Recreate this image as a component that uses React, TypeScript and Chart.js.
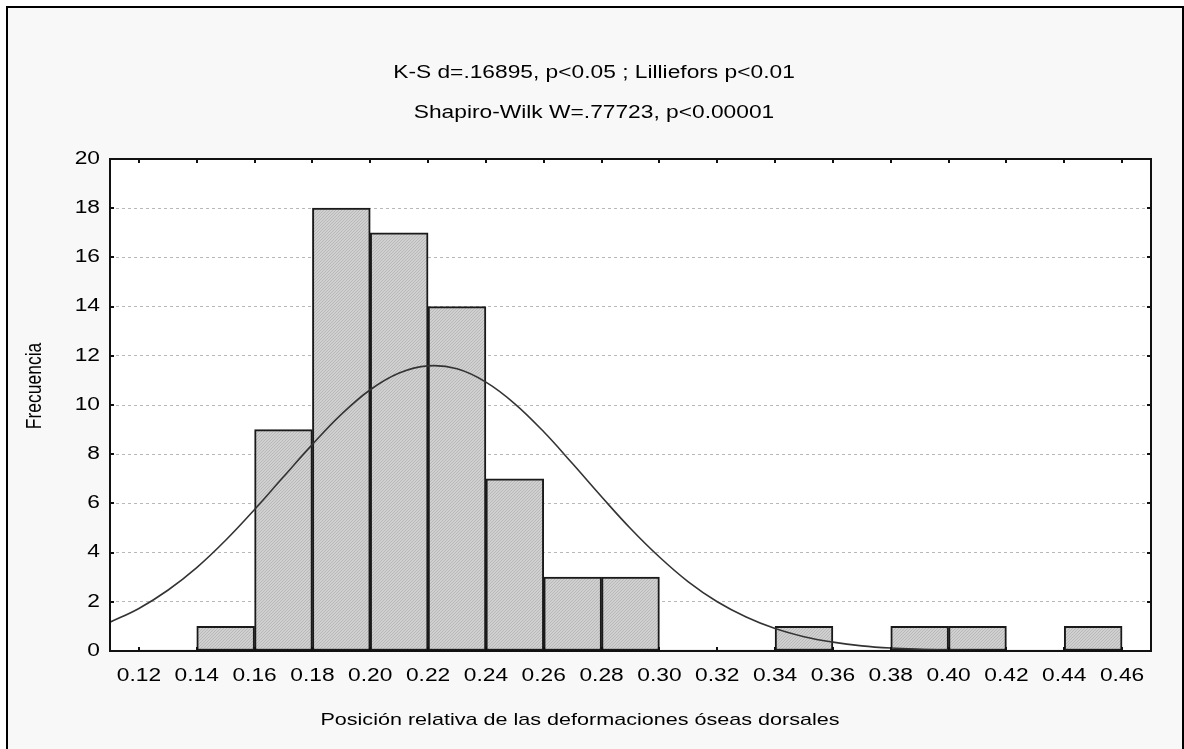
import React, { useEffect, useRef } from "react";
import { Chart, registerables } from "chart.js";

Chart.register(...registerables);

// ---- Data ----
const tickValues = [0.12, 0.14, 0.16, 0.18, 0.2, 0.22, 0.24, 0.26, 0.28, 0.3, 0.32, 0.34, 0.36, 0.38, 0.4, 0.42, 0.44, 0.46];
const tickLabels = ["0.12", "0.14", "0.16", "0.18", "0.20", "0.22", "0.24", "0.26", "0.28", "0.30", "0.32", "0.34", "0.36", "0.38", "0.40", "0.42", "0.44", "0.46"];
const binStarts = [0.12, 0.14, 0.16, 0.18, 0.2, 0.22, 0.24, 0.26, 0.28, 0.3, 0.32, 0.34, 0.36, 0.38, 0.4, 0.42, 0.44];
const binEnds = [0.14, 0.16, 0.18, 0.2, 0.22, 0.24, 0.26, 0.28, 0.3, 0.32, 0.34, 0.36, 0.38, 0.4, 0.42, 0.44, 0.46];
const frequencies = [0, 1, 9, 18, 17, 14, 7, 3, 3, 0, 0, 1, 0, 1, 1, 0, 1];

const curveX = [0.11, 0.12, 0.13, 0.14, 0.15, 0.16, 0.17, 0.18, 0.19, 0.2, 0.21, 0.22, 0.23, 0.24, 0.25, 0.26, 0.27, 0.28, 0.29, 0.3, 0.31, 0.32, 0.33, 0.34, 0.35, 0.36, 0.37, 0.38, 0.39, 0.4, 0.41, 0.42, 0.43, 0.44, 0.45, 0.46, 0.47];
const curveY = [1.17, 1.73, 2.47, 3.39, 4.5, 5.75, 7.08, 8.4, 9.62, 10.62, 11.3, 11.59, 11.47, 10.93, 10.05, 8.91, 7.61, 6.27, 4.98, 3.82, 2.81, 2.0, 1.38, 0.91, 0.58, 0.36, 0.21, 0.12, 0.07, 0.04, 0.02, 0.01, 0, 0, 0, 0, 0];

const yTickValues = [0, 2, 4, 6, 8, 10, 12, 14, 16, 18, 20];
const yTickLabels = ["0", "2", "4", "6", "8", "10", "12", "14", "16", "18", "20"];

const titleLines = ["K-S d=.16895, p<0.05 ; Lilliefors p<0.01", "Shapiro-Wilk W=.77723, p<0.00001"];
const xTitle = "Posición relativa de las deformaciones óseas dorsales";
const yTitle = "Frecuencia";

// ---- Styling ----
const X_MIN = 0.11;
const X_MAX = 0.47;
const FONT = "'Liberation Sans', Arial, sans-serif";
const FONT_SIZE = 17.5;
const SX = 1.3;

function drawText(
  ctx: CanvasRenderingContext2D,
  text: string,
  x: number,
  y: number,
  align: CanvasTextAlign,
  rotate = false,
  size = FONT_SIZE
) {
  ctx.save();
  ctx.font = `${size}px ${FONT}`;
  ctx.fillStyle = "#000";
  ctx.textBaseline = "middle";
  ctx.textAlign = align;
  ctx.translate(x, y);
  if (rotate) {
    ctx.rotate(-Math.PI / 2);
    ctx.scale(1, SX);
  } else {
    ctx.scale(SX, 1);
  }
  ctx.fillText(text, 0, 0);
  ctx.restore();
}

const framePlugin = {
  id: "framePlugin",
  beforeDraw(chart: any) {
    const { ctx, chartArea } = chart;
    ctx.save();
    ctx.fillStyle = "#ffffff";
    ctx.fillRect(chartArea.left, chartArea.top, chartArea.right - chartArea.left, chartArea.bottom - chartArea.top);
    ctx.restore();
  },
  afterDraw(chart: any) {
    const { ctx, chartArea } = chart;
    const xs = chart.scales.x;
    const ys = chart.scales.y;
    const { left, right, top, bottom } = chartArea;
    ctx.save();
    ctx.strokeStyle = "#111";
    ctx.lineWidth = 2;
    ctx.strokeRect(left, top, right - left, bottom - top);
    ctx.beginPath();
    tickValues.forEach((v) => {
      const px = Math.round(xs.getPixelForValue(v));
      ctx.moveTo(px, top);
      ctx.lineTo(px, top + 4);
      ctx.moveTo(px, bottom);
      ctx.lineTo(px, bottom - 4);
    });
    yTickValues.forEach((v) => {
      const py = Math.round(ys.getPixelForValue(v));
      ctx.moveTo(right, py);
      ctx.lineTo(right - 4, py);
      ctx.moveTo(left, py);
      ctx.lineTo(left + 4, py);
    });
    ctx.stroke();
    ctx.restore();

    tickValues.forEach((v, i) => {
      drawText(ctx, tickLabels[i], xs.getPixelForValue(v), bottom + 25, "center");
    });
    yTickValues.forEach((v, i) => {
      drawText(ctx, yTickLabels[i], left - 10, ys.getPixelForValue(v), "right");
    });
    const cx = 594;
    drawText(ctx, titleLines[0], cx, 73, "center");
    drawText(ctx, titleLines[1], cx, 113, "center");
    drawText(ctx, xTitle, 580, 720, "center", false, 16.6);
    drawText(ctx, yTitle, 35, 386, "center", true);
  },
};

export default function App() {
  const ref = useRef<HTMLCanvasElement | null>(null);

  useEffect(() => {
    const canvas = ref.current;
    if (!canvas) return;
    const ctx = canvas.getContext("2d")!;

    const tile = document.createElement("canvas");
    tile.width = 3;
    tile.height = 3;
    const tctx = tile.getContext("2d")!;
    tctx.fillStyle = "#d0d0d0";
    tctx.fillRect(0, 0, 3, 3);
    tctx.fillStyle = "#b9b9b9";
    for (let i = 0; i < 3; i++) tctx.fillRect(i, 2 - i, 1, 1);
    const pattern = ctx.createPattern(tile, "repeat");

    const barPoints = binStarts.map((s, i) => ({ x: (s + binEnds[i]) / 2, y: frequencies[i] }));
    const curvePoints = curveX.map((x, i) => ({ x, y: curveY[i] }));

    const chart = new Chart(ctx, {
      type: "bar",
      data: {
        datasets: [
          {
            type: "line",
            data: curvePoints,
            borderColor: "#333333",
            borderWidth: 1.6,
            pointRadius: 0,
            tension: 0.4,
            fill: false,
            order: 1,
          } as any,
          {
            type: "bar",
            data: barPoints,
            backgroundColor: pattern as any,
            borderColor: "#1a1a1a",
            borderWidth: 2,
            borderSkipped: false,
            barPercentage: 1,
            categoryPercentage: 1,
            minBarLength: 1,
            order: 2,
          } as any,
        ],
      },
      options: {
        animation: false,
        responsive: false,
        devicePixelRatio: 1,
        layout: { padding: { left: 110, top: 159, right: 33, bottom: 98 } },
        plugins: { legend: { display: false }, tooltip: { enabled: false }, title: { display: false } },
        scales: {
          x: {
            type: "linear",
            min: X_MIN,
            max: X_MAX,
            offset: false,
            grid: { display: false, drawTicks: false },
            border: { display: false },
            ticks: { display: false },
            afterBuildTicks: (s: any) => {
              s.ticks = tickValues.map((v) => ({ value: v }));
            },
            afterFit: (s: any) => {
              s.height = 0;
            },
          },
          y: {
            type: "linear",
            min: 0,
            max: 20,
            grid: {
              drawTicks: false,
              color: (c: any) => (c.tick && (c.tick.value === 0 || c.tick.value === 20) ? "rgba(0,0,0,0)" : "#b8b8b8"),
              lineWidth: 1,
            },
            border: { display: false, dash: [3, 3] },
            ticks: { display: false },
            afterBuildTicks: (s: any) => {
              s.ticks = yTickValues.map((v) => ({ value: v }));
            },
            afterFit: (s: any) => {
              s.width = 0;
            },
          },
        },
      },
      plugins: [framePlugin],
    });

    return () => chart.destroy();
  }, []);

  return (
    <div style={{ position: "fixed", left: 0, top: 0, width: 1184, height: 749, overflow: "hidden", background: "#ffffff" }}>
      <div
        style={{
          position: "absolute",
          left: 6,
          top: 6,
          width: 1174,
          height: 800,
          border: "2px solid #000",
          background: "#f8f8f8",
        }}
      />
      <canvas ref={ref} width={1184} height={749} style={{ position: "absolute", left: 0, top: 0, width: 1184, height: 749 }} />
    </div>
  );
}
